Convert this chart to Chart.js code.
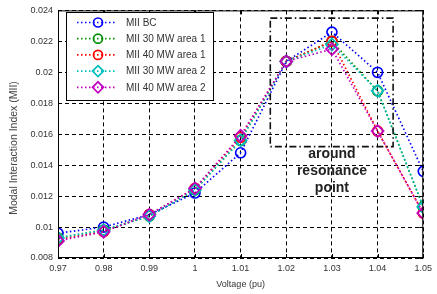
<!DOCTYPE html>
<html><head><meta charset="utf-8">
<script src="https://cdn.jsdelivr.net/npm/chart.js@4/dist/chart.umd.min.js"></script>
<style>html,body{margin:0;padding:0;background:#fff}#wrap{width:437px;height:294px}</style>
</head><body><div id="wrap"><canvas id="c" width="437" height="294"></canvas></div>
<script>
const voltages = [0.97, 0.98, 0.99, 1.00, 1.01, 1.02, 1.03, 1.04, 1.05];
const miiBC      = [0.0096, 0.0100, 0.0108, 0.0122, 0.0148, 0.0207, 0.0226, 0.0200, 0.0136];
const mii30area1 = [0.0093, 0.0098, 0.0107, 0.0124, 0.0156, 0.0207, 0.0220, 0.0188, 0.0113];
const mii40area1 = [0.0092, 0.0097, 0.0108, 0.0125, 0.0158, 0.0207, 0.0220, 0.0162, 0.0109];
const mii30area2 = [0.0093, 0.0098, 0.0107, 0.0124, 0.0156, 0.0207, 0.0218, 0.0188, 0.0113];
const mii40area2 = [0.0091, 0.0097, 0.0108, 0.0125, 0.0159, 0.0207, 0.0215, 0.0162, 0.0109];
const seriesNames = ['MII BC', 'MII 30 MW area 1', 'MII 40 MW area 1', 'MII 30 MW area 2', 'MII 40 MW area 2'];
const xTicks = [0.97, 0.98, 0.99, 1.00, 1.01, 1.02, 1.03, 1.04, 1.05];
const yTicks = [0.008, 0.010, 0.012, 0.014, 0.016, 0.018, 0.020, 0.022, 0.024];
const boxX = [1.0165, 1.0434];
const boxY = [0.0152, 0.0235];
const boxText = ['around', 'resonance', 'point'];
const yTitle = 'Modal Interaction Index (MII)';

const allSeries = [miiBC, mii30area1, mii40area1, mii30area2, mii40area2];
const colors = ['#0000ff', '#009000', '#ff0000', '#00bfbf', '#bf00bf'];
const shapes = ['circle', 'circle', 'circle', 'rectRot', 'rectRot'];

const datasets = allSeries.map((s, i) => ({
  label: seriesNames[i],
  data: s.map((v, j) => ({x: voltages[j], y: v})),
  borderColor: colors[i],
  backgroundColor: 'rgba(0,0,0,0)',
  borderWidth: 1.7,
  borderDash: [1.5, 2.5],
  pointStyle: shapes[i],
  pointRadius: shapes[i] === 'circle' ? 5 : 6,
  pointBorderWidth: 1.7,
  pointBorderColor: colors[i],
  pointBackgroundColor: 'rgba(0,0,0,0)',
  order: 5 - i,
  tension: 0
}));

const overlay = {
  id: 'overlay',
  afterDraw(chart) {
    const ctx = chart.ctx, a = chart.chartArea, xs = chart.scales.x, ys = chart.scales.y;
    ctx.save();
    ctx.strokeStyle = '#000'; ctx.lineWidth = 1; ctx.setLineDash([]);
    ctx.strokeRect(a.left + 0.5, a.top + 0.5, a.right - a.left - 1, a.bottom - a.top - 1);
    ctx.beginPath();
    xTicks.forEach(v => { const px = Math.round(xs.getPixelForValue(v)) + 0.5;
      ctx.moveTo(px, a.bottom); ctx.lineTo(px, a.bottom - 4);
      ctx.moveTo(px, a.top); ctx.lineTo(px, a.top + 4); });
    yTicks.forEach(v => { const py = Math.round(ys.getPixelForValue(v)) + 0.5;
      ctx.moveTo(a.left, py); ctx.lineTo(a.left + 4, py);
      ctx.moveTo(a.right, py); ctx.lineTo(a.right - 4, py); });
    ctx.stroke();
    const bx1 = xs.getPixelForValue(boxX[0]), bx2 = xs.getPixelForValue(boxX[1]);
    const by1 = ys.getPixelForValue(boxY[1]), by2 = ys.getPixelForValue(boxY[0]);
    ctx.strokeStyle = '#111'; ctx.lineWidth = 1.6; ctx.setLineDash([7, 3, 1.5, 3]);
    ctx.strokeRect(bx1, by1, bx2 - bx1, by2 - by1);
    ctx.setLineDash([]);
    ctx.fillStyle = '#222'; ctx.font = 'bold 14px "Liberation Sans", Arial, sans-serif';
    ctx.textAlign = 'center'; ctx.textBaseline = 'middle';
    const tx = xs.getPixelForValue(1.03);
    boxText.forEach((t, i) => ctx.fillText(t, tx, 154 + i * 17));
    // y title
    ctx.save();
    ctx.translate(14, 148); ctx.rotate(-Math.PI / 2);
    ctx.fillStyle = '#444'; ctx.font = '10.5px "Liberation Sans", Arial, sans-serif';
    ctx.fillText(yTitle, 0, 0);
    ctx.restore();
    // legend
    const lx = 66, ly = 12, lw = 147, lh = 88;
    ctx.fillStyle = '#fff'; ctx.fillRect(lx, ly, lw, lh);
    ctx.strokeStyle = '#000'; ctx.lineWidth = 1; ctx.strokeRect(lx + 0.5, ly + 0.5, lw, lh);
    ctx.font = '10px "Liberation Sans", Arial, sans-serif'; ctx.textAlign = 'left';
    seriesNames.forEach((n, i) => {
      const y = 22.5 + i * 16.2;
      ctx.strokeStyle = colors[i]; ctx.lineWidth = 1.7; ctx.setLineDash([1.5, 2.5]);
      ctx.beginPath(); ctx.moveTo(77, y); ctx.lineTo(117, y); ctx.stroke();
      ctx.setLineDash([]);
      ctx.beginPath();
      if (shapes[i] === 'circle') { ctx.arc(98, y, 4.5, 0, Math.PI * 2); }
      else { ctx.moveTo(98, y - 5.5); ctx.lineTo(103.5, y); ctx.lineTo(98, y + 5.5); ctx.lineTo(92.5, y); ctx.closePath(); }
      ctx.stroke();
      ctx.fillStyle = '#333'; ctx.fillText(n, 126, y + 0.5);
    });
    ctx.restore();
  }
};

const fmt = d => v => String(Number(v.toFixed(d)));

new Chart(document.getElementById('c'), {
  type: 'line',
  data: {datasets},
  options: {
    responsive: false, animation: false,
    layout: {padding: {top: 7, right: 10, left: 0, bottom: 0}},
    plugins: {legend: {display: false}, tooltip: {enabled: false}},
    scales: {
      x: {
        type: 'linear', min: 0.97, max: 1.05,
        afterBuildTicks: s => { s.ticks = xTicks.map(v => ({value: v})); },
        afterFit: s => { s.height = 36; },
        ticks: {callback: fmt(2), color: '#333', font: {size: 9, family: '"Liberation Sans", Arial'}, padding: 5, maxRotation: 0},
        grid: {color: '#000', lineWidth: 1, drawTicks: false},
        border: {display: false, dash: [4, 3]},
        title: {display: true, text: 'Voltage (pu)', color: '#333', font: {size: 9, family: '"Liberation Sans", Arial'}, padding: {top: 2}}
      },
      y: {
        type: 'linear', min: 0.008, max: 0.024,
        afterBuildTicks: s => { s.ticks = yTicks.map(v => ({value: v})); },
        afterFit: s => { s.width = 58; },
        ticks: {callback: fmt(3), color: '#333', font: {size: 9, family: '"Liberation Sans", Arial'}, padding: 5},
        grid: {color: '#000', lineWidth: 1, drawTicks: false},
        border: {display: false, dash: [4, 3]},
        title: {display: false}
      }
    }
  },
  plugins: [overlay]
});
</script></body></html>
